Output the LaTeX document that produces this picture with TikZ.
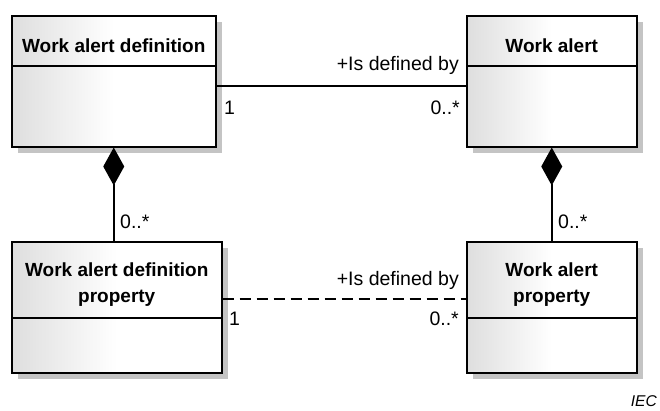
\documentclass[tikz,border=0pt]{standalone}
\usepackage{fontspec}
\setmainfont{Liberation Sans}
\usetikzlibrary{arrows.meta,shadows}

% class compartment fill: light grey at the left edge fading to white
\definecolor{classgray}{HTML}{DEDEDE}
\definecolor{shadowgray}{HTML}{C4C4C4}
\pgfdeclarehorizontalshading{classfade}{100bp}{%
  color(0bp)=(classgray); color(25bp)=(classgray);
  color(50bp)=(white); color(100bp)=(white)}

\tikzset{
  umlclass/.style={rectangle, draw=black, line width=1.5pt, shading=classfade,
    inner sep=0pt, anchor=north west, minimum height=131pt,
    general shadow={fill=shadowgray, shadow xshift=6pt, shadow yshift=-6pt}},
  classname/.style={font=\fontsize{19}{25.5}\selectfont\bfseries, inner sep=0pt,
    align=center},
  rolelabel/.style={font=\fontsize{19.5}{22}\selectfont, inner sep=0pt},
  link/.style={line width=1.5pt},
  composition/.style={link, {Diamond[length=38pt, width=21pt]}-},
  sourcenote/.style={font=\fontsize{15.6}{18}\selectfont\itshape, inner sep=0pt}
}

\begin{document}
\begin{tikzpicture}[x=1pt, y=-1pt]
  \useasboundingbox (0,0) rectangle (660,410);

  % class boxes
  \node[umlclass, minimum width=204pt] (def)     at (11,15) {};
  \node[umlclass, minimum width=170pt] (alert)   at (466,15) {};
  \node[umlclass, minimum width=210pt] (defprop) at (11,241) {};
  \node[umlclass, minimum width=170pt] (prop)    at (466,241) {};

  % name compartments
  \draw[link] (def.west |- 0,66) -- (def.east |- 0,66);
  \draw[link] (alert.west |- 0,66) -- (alert.east |- 0,66);
  \draw[link] (defprop.west |- 0,318) -- (defprop.east |- 0,318);
  \draw[link] (prop.west |- 0,318) -- (prop.east |- 0,318);

  % class names
  \node[classname, anchor=base] (defname) at (def.center |- 0,52) {Work alert definition};
  \node[classname, anchor=base] (alertname) at (alert.center |- 0,52) {Work alert};
  \node[classname, anchor=north] (defpropname) at (defprop.center |- 0,263) {Work alert definition\\property};
  \node[classname, anchor=north] (propname) at (prop.center |- 0,263) {Work alert\\property};

  % associations
  \draw[link] ([yshift=-4.5pt]def.east) -- ([yshift=-4.5pt]def.east -| alert.west);
  \draw[link, dash pattern=on 11pt off 6pt]
    ([yshift=8.5pt]defprop.east) -- ([yshift=8.5pt]defprop.east -| prop.west);

  % compositions
  \draw[composition] (def.south) -- (def.south |- defprop.north);
  \draw[composition] (alert.south) -- (alert.south |- prop.north);

  % role names and multiplicities
  \node[rolelabel, anchor=base east] (r1) at (459,70) {+Is defined by};
  \node[rolelabel, anchor=base west] (m1) at (224,114) {1};
  \node[rolelabel, anchor=base east] (m2) at (460,114) {0..*};
  \node[rolelabel, anchor=base west] (m3) at (120,228) {0..*};
  \node[rolelabel, anchor=base west] (m4) at (558,228) {0..*};
  \node[rolelabel, anchor=base east] (r2) at (459,285) {+Is defined by};
  \node[rolelabel, anchor=base west] (m5) at (229,325) {1};
  \node[rolelabel, anchor=base east] (m6) at (459,325) {0..*};

  \node[sourcenote, anchor=base east] (src) at (657,406.5) {IEC};
\end{tikzpicture}
\end{document}
